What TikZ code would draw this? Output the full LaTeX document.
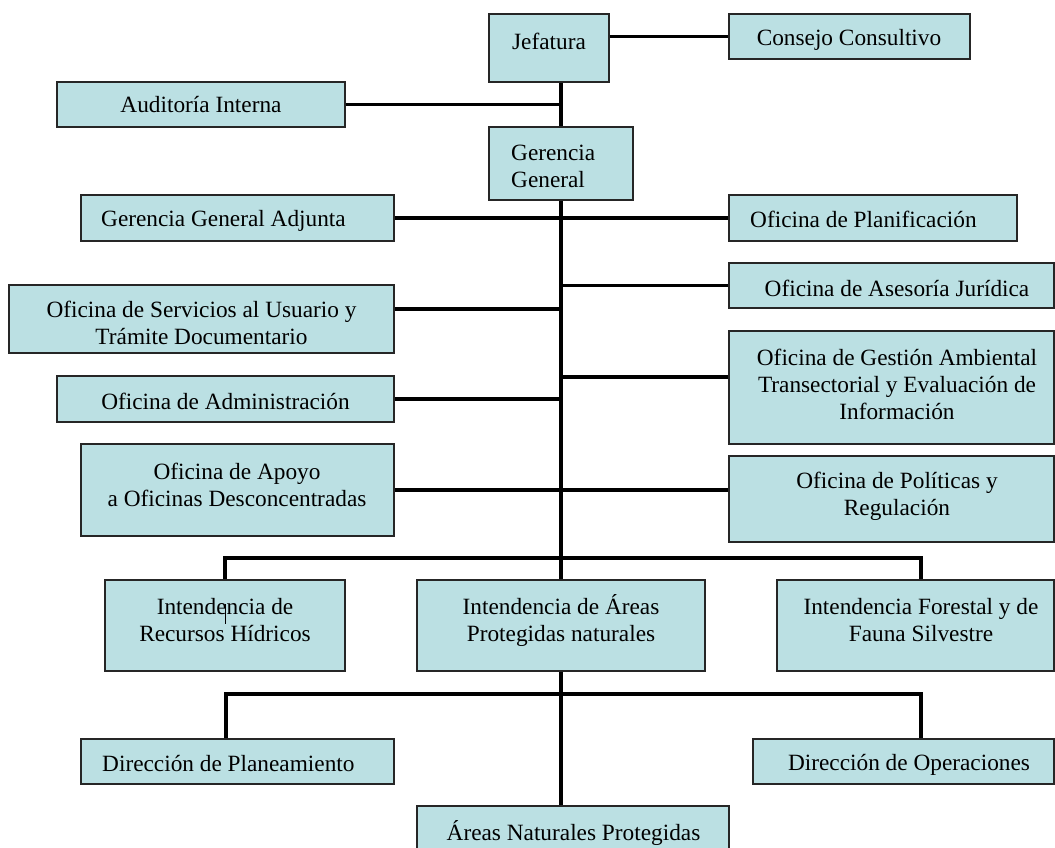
\documentclass[tikz,border=0pt]{standalone}
\usepackage{fontspec}
\setmainfont{Liberation Serif}
\usetikzlibrary{calc}
\definecolor{boxfill}{RGB}{187,224,227}
\tikzset{
  orgbox/.style={draw=black!85, line width=1.2pt, fill=boxfill, inner sep=0pt, rectangle},
  orgtxt/.style={inner sep=0pt, align=center, font=\fontsize{23.3}{27}\selectfont},
  link/.style={line width=3.8pt, black},
}
\newcommand\mkbox[5]{%
  \node[orgbox, minimum width={#4-#2}, minimum height={#5-#3}] (#1) at ({(#2+#4)/2},{(#3+#5)/2}) {};}
\begin{document}
\begin{tikzpicture}[x=1pt,y=-1pt]
\clip (0,0) rectangle (1055,848);
\fill[white] (0,0) rectangle (1055,848);
% boxes
\mkbox{jef}{489}{14}{609}{82}
\mkbox{con}{729}{14}{970}{59}
\mkbox{aud}{57}{82}{345}{127}
\mkbox{gg}{489}{127}{633}{200}
\mkbox{gga}{81}{195}{394}{241}
\mkbox{pla}{729}{195}{1017}{241}
\mkbox{ase}{729}{263}{1054}{308}
\mkbox{ser}{9}{285}{394}{353}
\mkbox{ges}{729}{331}{1054}{444}
\mkbox{adm}{57}{376}{394}{422}
\mkbox{apo}{81}{444}{394}{536}
\mkbox{pol}{729}{456}{1054}{542}
\mkbox{rh}{105}{580}{345}{671}
\mkbox{ia}{417}{580}{705}{671}
\mkbox{fo}{777}{580}{1054}{671}
\mkbox{dp}{81}{739}{394}{784}
\mkbox{dop}{753}{739}{1054}{784}
\mkbox{anp}{417}{806}{729}{870}
% texts
\node[orgtxt] (jefT) at (549,41) {Jefatura};
\node[orgtxt] (conT) at (849,40) {Consejo Consultivo};
\node[orgtxt] (audT) at (201,105) {Auditoría Interna};
\node[orgtxt, align=left, anchor=west] (ggT) at (511,166) {Gerencia\\General};
\node[orgtxt, anchor=west] (ggaT) at (101,221) {Gerencia General Adjunta};
\node[orgtxt, anchor=west] (plaT) at (750,219) {Oficina de Planificación};
\node[orgtxt] (aseT) at (897,288) {Oficina de Asesoría Jurídica};
\node[orgtxt] (serT) at (201.5,323) {Oficina de Servicios al Usuario y\\Trámite Documentario};
\node[orgtxt] (gesT) at (897,384.5) {Oficina de Gestión Ambiental\\Transectorial y Evaluación de\\Información};
\node[orgtxt] (admT) at (225.5,401) {Oficina de Administración};
\node[orgtxt] (apoT) at (237,485) {Oficina de Apoyo\\a Oficinas Desconcentradas};
\node[orgtxt] (polT) at (897,496) {Oficina de Políticas y\\Regulación};
\node[orgtxt] (rhT) at (225,620.5) {Intendencia de\\Recursos Hídricos};
\node[orgtxt] (iaT) at (561,620.5) {Intendencia de Áreas\\Protegidas naturales};
\node[orgtxt] (foT) at (921,620.5) {Intendencia Forestal y de\\Fauna Silvestre};
\node[orgtxt, anchor=west] (dpT) at (102,764) {Dirección de Planeamiento};
\node[orgtxt] (dopT) at (909,765) {Dirección de Operaciones};
\node[orgtxt] (anpT) at (573.5,833) {Áreas Naturales Protegidas};
% helper coordinates
\coordinate (serL) at ($(ser.north east)!0.353!(ser.south east)$);
\coordinate (gesL) at ($(ges.north west)!0.407!(ges.south west)$);
\coordinate (barR) at (921,558);
\coordinate (bar2L) at (226,694);
\coordinate (bar2R) at (921,694);
% connectors
\draw[link] (jef.east |- con.west) -- (con.west);
\draw[link] (jef.south -| gg.north) -- (gg.north);
\draw[link] (aud.east) -- (aud.east -| gg.north);
\draw[link] (gg.south) -- (ia.north);
\draw[link] (gga.east) -- (pla.west);
\draw[link] (ase.west) -- (ase.west -| gg.south);
\draw[link] (serL) -- (serL -| gg.south);
\draw[link] (gesL) -- (gesL -| gg.south);
\draw[link] (adm.east) -- (adm.east -| gg.south);
\draw[link] (apo.east) -- (apo.east -| pol.west);
\draw[link] (rh.north) |- (barR) -- (barR |- fo.north);
\draw[link] (ia.south) -- (ia.south |- anp.north);
\draw[link] (bar2L |- dp.north) -- (bar2L) -- (bar2R) -- (bar2R |- dop.north);
\draw[line width=1pt] ([yshift=-25pt]rh.north) -- ([yshift=-45pt]rh.north);
\end{tikzpicture}
\end{document}
